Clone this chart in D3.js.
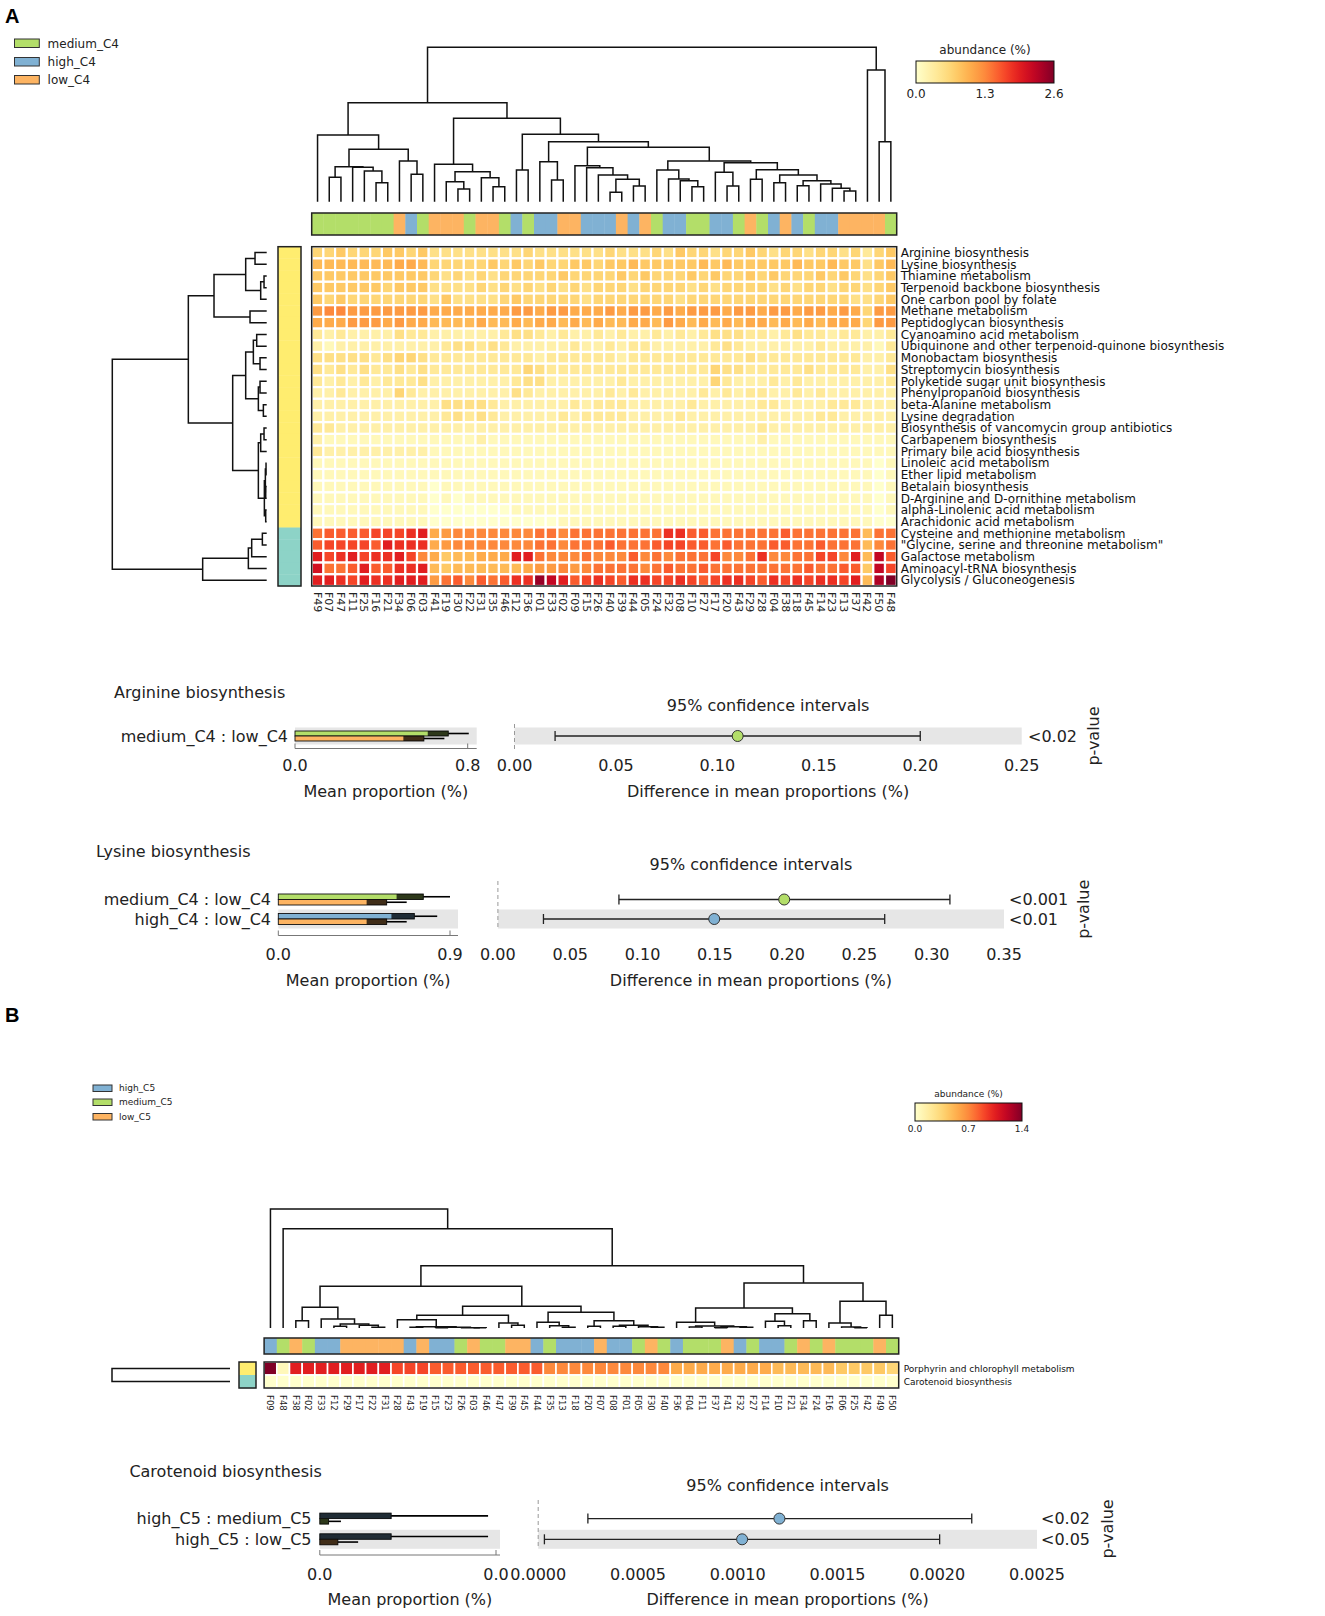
<!DOCTYPE html>
<html>
<head>
<meta charset="utf-8">
<script src="https://cdn.jsdelivr.net/npm/d3@7"></script>
<style>
  body { margin: 0; background: #fff; }
  svg { display: block; font-family: "DejaVu Sans", sans-serif; }
</style>
</head>
<body>
<svg id="fig" width="1325" height="1616"></svg>
<script>
// ---- panel A heatmap data ----
var colsA = ["F49","F07","F47","F11","F25","F16","F21","F34","F06","F03","F41","F19","F30","F22","F31","F35","F46","F12","F36","F01",
  "F33","F02","F09","F15","F26","F40","F39","F44","F05","F24","F32","F08","F10","F27","F17","F20","F43","F29","F28","F04",
  "F38","F18","F45","F14","F23","F13","F37","F42","F50","F48"];
// m = medium_C4, h = high_C4, l = low_C4
var groupsA = "mmmmmmmlhm lllmllmhmhh llhhhlhlm hhmmhhmlmh lhmhhllllm";
var rowsA = ["Arginine biosynthesis","Lysine biosynthesis","Thiamine metabolism","Terpenoid backbone biosynthesis",
  "One carbon pool by folate","Methane metabolism","Peptidoglycan biosynthesis","Cyanoamino acid metabolism",
  "Ubiquinone and other terpenoid-quinone biosynthesis","Monobactam biosynthesis","Streptomycin biosynthesis",
  "Polyketide sugar unit biosynthesis","Phenylpropanoid biosynthesis","beta-Alanine metabolism","Lysine degradation",
  "Biosynthesis of vancomycin group antibiotics","Carbapenem biosynthesis","Primary bile acid biosynthesis",
  "Linoleic acid metabolism","Ether lipid metabolism","Betalain biosynthesis","D-Arginine and D-ornithine metabolism",
  "alpha-Linolenic acid metabolism","Arachidonic acid metabolism","Cysteine and methionine metabolism",
  "\"Glycine, serine and threonine metabolism\"","Galactose metabolism","Aminoacyl-tRNA biosynthesis",
  "Glycolysis / Gluconeogenesis"];
var rowGroupA = "yyyyyyyyyyyyyyyyyyyyyyyyttttt"; // y = upper cluster, t = lower cluster
// abundance levels per cell, one char per sample: "0".."k" = 0..20 twentieths of the colour range
var heatA = [
  "5565556656 4444444454 4444454445 4655455654 5545545356",
  "7777777887 5555565656 5566566766 6667676666 6766766467",
  "6666666666 5454545555 5655556565 5565655656 5556565456",
  "6666665666 4444545454 5454555455 5545455554 5455455456",
  "6565555555 4644445655 5554555555 5455555555 5555554456",
  "9aa9999999 8888888998 9988898998 9899989989 9899898599",
  "8889998988 7777877878 8787877887 9878787887 8787888599",
  "3232222433 2222223443 2322323223 2323444332 3433233223",
  "2122222222 2344343222 2232232332 2222343222 2223222213",
  "4444434554 3333333332 3333332333 3333333433 3333333223",
  "4343433434 3333333354 3333333333 3333544333 3343333224",
  "3232323334 2222222344 2222223222 2222532223 2322222223",
  "2232222532 2222222432 2222232322 2223232332 2323222222",
  "2222222222 2444432222 2232333222 2232222233 2222333222",
  "2222222222 2343432222 2323333222 2322222222 2223322222",
  "3322222222 2222222222 2222222222 2222222232 2222222222",
  "2111111111 1111211111 1111111111 1111111121 1111111111",
  "3222222222 1111111111 1111111111 1111111111 1111111111",
  "1111111111 1111111111 1111111111 1111111111 1111111101",
  "1111111111 1111111111 1111111111 1111111111 1111111101",
  "1111111111 0111111111 1111111111 1111111111 1111111101",
  "1111111111 0101111111 1111111111 1111111111 1111111101",
  "1111111111 0000000111 1111111111 1111111111 1111111101",
  "1111111111 0000000000 0111111111 1111111111 1111111100",
  "bccccdddef 89aaaaaaab babbbbbbbb eeccbbbbbb cbbbbbb7bb",
  "cddddcfeee 89aaaaaaab babbbcbbbc ddccbcbbbc cbbcbbb7ab",
  "fdefdeefda 8677888ffb aaabaaacab abbbdaabea abbddaf7hc",
  "gbbcfcceef 7677777789 9a9abbbbab cbbcbbbbbb bbcbbcc6hd",
  "ffedfeefff 9bcacbceej hfcdedceed dedcdeedce dedeedf7ik"
];
var maxA = 2.6, ticksA = [0, 1.3, 2.6];
// dendrograms: [height, left, right], leaves are column / row indices
var colTreeA = [463,
  [297,
    [200, 0, [157, [105, [73, 1, 2], [103, 3, [92, 4, [57, 5, 6]]]], [122, 7, [82, 8, 9]]]],
    [250,
      [112, 10, [90, [60, 11, [38, 12, 13]], [72, 14, [45, 15, 16]]]],
      [202, [95, 17, 18],
        [180, [120, 19, [65, 20, 21]],
          [163, [108, 22, [102, 23, [80, 24, [67, [28, 25, 26], [47, 27, 28]]]]],
            [122, [95, 29, [68, 30, [63, 31, [45, 32, 33]]]],
              [117, [88, 34, [47, 35, 36]],
                [96, [67, 37, 38], [80, [57, 39, 40], [63, [48, 41, 42], [53, 43, [40, 44, [32, 45, 46]]]]]]]]]]]]],
  [395, 47, [180, 48, 49]]];
var rowTreeA = [463,
  [235,
    [158, [63, [35, 0, 1], [18, [8, 2, 3], 4]], [50, 5, 6]],
    [102,
      [63, [40, [30, 7, 8], [20, 9, 10]], [25, [20, 11, 12], [10, 13, 14]]],
      [25, [18, [8, 15, 16], 17], [7, [4, [2, 18, 19], [3, 20, 21]], [3, 22, 23]]]]],
  [192, [55, [45, [13, 24, 25], 26], 27], 28]];

// ---- panel B heatmap data ----
var colsB = ["F09","F48","F38","F02","F33","F12","F29","F17","F22","F31","F28","F43","F19","F15","F23","F26","F03","F46","F47","F39",
  "F45","F44","F35","F13","F18","F20","F07","F08","F01","F05","F30","F40","F36","F04","F11","F37","F41","F32","F27","F14",
  "F10","F21","F34","F24","F16","F06","F25","F42","F49","F50"];
var groupsB = "hmlmhhllll lhlhhmlmml lhmhhhlhhm lmhmmmlhmh hmlmlmmmlm";
var rowsB = ["Porphyrin and chlorophyll metabolism", "Carotenoid biosynthesis"];
var heatB = [
  "k1ffffffff dddccccccc ccaaaaaaaa aa88888888 7777766665",
  "0000000000 0000000000 0000000000 0000000000 0000000000"
];
var maxB = 1.4, ticksB = [0, 0.7, 1.4];
var colTreeB = [357, 0, [298, 1, [187,
  [125,
    [62, [22, 2, 3], [27, 4, [12, [5, 5, 6], [8, 7, [2, 8, 9]]]]],
    [65,
      [38, [25, 10, [4, [2, 11, 12], [2, [1, 13, 14], [1, 15, [0.5, 16, 17]]]]], [15, 18, [8, 19, 20]]],
      [47, [17, 21, [7, 22, [2, 23, 24]]], [22, [5, 25, 26], [8, [5, 27, 28], [4, 29, [2, 30, 31]]]]]]],
  [135,
    [60, [17, 32, [6, [3, 33, 34], [4, [1, 35, 36], [2, 37, 38]]]], [43, [20, 39, [7, 40, 41]], [22, 42, 43]]],
    [80, [15, 44, [3, 45, [0.5, 46, 47]]], [38, 48, 49]]]]]];
var rowTreeB = [1, 0, 1];

var legendA = [["medium_C4", "m"], ["high_C4", "h"], ["low_C4", "l"]];
var legendB = [["high_C5", "h"], ["medium_C5", "m"], ["low_C5", "l"]];

// ---- extended error bar data ----
var sectionTitles = ["Arginine biosynthesis", "Lysine biosynthesis", "Carotenoid biosynthesis"];
var pairLabels = [["medium_C4 : low_C4"], ["medium_C4 : low_C4", "high_C4 : low_C4"], ["high_C5 : medium_C5", "high_C5 : low_C5"]];
var pairGroups = [[["m", "l"]], [["m", "l"], ["h", "l"]], [["h", "m"], ["h", "l"]]];
var meanProp = [[[0.71, 0.597]], [[0.76, 0.568], [0.713, 0.568]], [[0.00162, 0.0002], [0.00162, 0.00041]]];
var meanSd = [[[0.095, 0.095]], [[0.14, 0.105], [0.12, 0.105]], [[0.0022, 0.00028], [0.0022, 0.00046]]];
var diffMean = [[0.11], [0.198, 0.1496], [0.001209, 0.001022]];
var diffLo = [[0.02], [0.0837, 0.0315], [0.000249, 0.0000311]];
var diffHi = [[0.2], [0.3126, 0.2675], [0.002173, 0.002012]];
var pValues = [["<0.02"], ["<0.001", "<0.01"], ["<0.02", "<0.05"]];
var propTicks = [[0, 0.8], [0, 0.9], [0, 0.004]];
var diffTicks = [[0, 0.05, 0.10, 0.15, 0.20, 0.25], [0, 0.05, 0.10, 0.15, 0.20, 0.25, 0.30, 0.35],
  [0, 0.0005, 0.0010, 0.0015, 0.0020, 0.0025]];
var diffFormat = [".2f", ".2f", ".4f"];

var groupColor = { m: "#b3de69", h: "#80b1d3", l: "#fdb462", y: "#ffed6f", t: "#8dd3c7" };
var levels = "0123456789abcdefghijk";

var svg = d3.select("#fig");

function decode(s, vmax) {
  return s.replace(/ /g, "").split("").map(function(c) { return levels.indexOf(c) / 20 * vmax; });
}

function drawTree(g, tree, pos, hs, orient) {
  function walk(node) {
    if (typeof node === "number") return { c: pos(node), h: 0 };
    var l = walk(node[1]), r = walk(node[2]), h = node[0], d;
    if (orient === "top")
      d = "M" + l.c + "," + hs(l.h) + "V" + hs(h) + "H" + r.c + "V" + hs(r.h);
    else
      d = "M" + hs(l.h) + "," + l.c + "H" + hs(h) + "V" + r.c + "H" + hs(r.h);
    g.append("path").attr("d", d).attr("fill", "none").attr("stroke", "#111").attr("stroke-width", 1.5);
    return { c: (l.c + r.c) / 2, h: h };
  }
  walk(tree);
}

function colorbar(id, x0, x1, y0, y1, vmax, ticks, fs, titleY, tickY) {
  var grad = svg.append("defs").append("linearGradient").attr("id", id);
  d3.range(0, 1.0001, 0.05).forEach(function(t) {
    grad.append("stop").attr("offset", t).attr("stop-color", d3.interpolateYlOrRd(t));
  });
  svg.append("rect").attr("x", x0).attr("y", y0).attr("width", x1 - x0).attr("height", y1 - y0)
    .attr("fill", "url(#" + id + ")").attr("stroke", "#111").attr("stroke-width", 1);
  var s = d3.scaleLinear().domain([0, vmax]).range([x0, x1]);
  svg.append("text").attr("x", (x0 + x1) / 2).attr("y", titleY).attr("text-anchor", "middle")
    .attr("font-size", fs).attr("fill", "#222").text("abundance (%)");
  ticks.forEach(function(t) {
    svg.append("text").attr("x", s(t)).attr("y", tickY).attr("text-anchor", "middle")
      .attr("font-size", fs).attr("fill", "#222").text(d3.format(".1f")(t));
  });
}

function heatmap(opt) {
  var g = svg.append("g");
  var x = d3.scaleBand().domain(d3.range(opt.cols.length)).range(opt.xr);
  var y = d3.scaleBand().domain(d3.range(opt.rows.length)).range(opt.yr);
  var color = d3.scaleSequential(d3.interpolateYlOrRd).domain([0, opt.vmax]);
  var groups = opt.groups.replace(/ /g, "");
  // sample group bar
  d3.range(opt.cols.length).forEach(function(j) {
    g.append("rect").attr("x", x(j)).attr("y", opt.gbar[0]).attr("width", x.bandwidth() + 0.4)
      .attr("height", opt.gbar[1] - opt.gbar[0]).attr("fill", groupColor[groups[j]]);
  });
  g.append("rect").attr("x", opt.xr[0]).attr("y", opt.gbar[0]).attr("width", opt.xr[1] - opt.xr[0])
    .attr("height", opt.gbar[1] - opt.gbar[0]).attr("fill", "none").attr("stroke", "#222").attr("stroke-width", 1.5);
  // cells
  opt.data.forEach(function(s, i) {
    decode(s, opt.vmax).forEach(function(v, j) {
      g.append("rect").attr("x", x(j)).attr("y", y(i)).attr("width", x.bandwidth()).attr("height", y.bandwidth())
        .attr("fill", color(v)).attr("stroke", "#fff").attr("stroke-width", opt.gap);
    });
  });
  g.append("rect").attr("x", opt.xr[0]).attr("y", opt.yr[0]).attr("width", opt.xr[1] - opt.xr[0])
    .attr("height", opt.yr[1] - opt.yr[0]).attr("fill", "none").attr("stroke", "#222").attr("stroke-width", 1.5);
  // row group bar
  opt.rows.forEach(function(r, i) {
    g.append("rect").attr("x", opt.rbar[0]).attr("y", y(i)).attr("width", opt.rbar[1] - opt.rbar[0])
      .attr("height", y.bandwidth() + 0.4).attr("fill", groupColor[opt.rowGroups[i]]);
  });
  g.append("rect").attr("x", opt.rbar[0]).attr("y", opt.yr[0]).attr("width", opt.rbar[1] - opt.rbar[0])
    .attr("height", opt.yr[1] - opt.yr[0]).attr("fill", "none").attr("stroke", "#222").attr("stroke-width", 1.5);
  // labels
  opt.rows.forEach(function(r, i) {
    g.append("text").attr("x", opt.xr[1] + opt.rowLabelGap).attr("y", y(i) + y.bandwidth() / 2).attr("dy", "0.36em")
      .attr("font-size", opt.rowFs).attr("fill", "#111").text(r);
  });
  opt.cols.forEach(function(c, j) {
    g.append("text").attr("transform", "translate(" + (x(j) + x.bandwidth() / 2) + "," + opt.colLabelY + ") rotate(90)")
      .attr("dy", "0.36em").attr("font-size", opt.colFs).attr("fill", "#222").text(c);
  });
  // dendrograms
  drawTree(g, opt.colTree, function(j) { return x(j) + x.bandwidth() / 2; },
    d3.scaleLinear().domain([0, opt.colTree[0]]).range(opt.colTreeY), "top");
  drawTree(g, opt.rowTree, function(i) { return y(i) + y.bandwidth() / 2; },
    d3.scaleLinear().domain([0, opt.rowTree[0]]).range(opt.rowTreeX), "left");
}

function legend(items, x0, ys, w, h, fs, tx) {
  items.forEach(function(it, i) {
    svg.append("rect").attr("x", x0).attr("y", ys[i]).attr("width", w).attr("height", h)
      .attr("fill", groupColor[it[1]]).attr("stroke", "#333").attr("stroke-width", 1);
    svg.append("text").attr("x", tx).attr("y", ys[i] + h / 2).attr("dy", "0.36em")
      .attr("font-size", fs).attr("fill", "#222").text(it[0]);
  });
}

function section(s, L) {
  var g = svg.append("g").attr("font-size", 16).attr("fill", "#222");
  var pt = propTicks[s], dt = diffTicks[s];
  var px = d3.scaleLinear().domain([pt[0], pt[pt.length - 1]]).range(L.prop);
  var dx = d3.scaleLinear().domain([dt[0], dt[dt.length - 1]]).range(L.diff);
  var n = pairLabels[s].length;
  g.append("text").attr("x", L.title[0]).attr("y", L.title[1]).attr("dy", "0.36em").text(sectionTitles[s]);
  g.append("text").attr("x", (L.diff[0] + L.diff[1]) / 2).attr("y", L.ciTitle).attr("dy", "0.36em")
    .attr("text-anchor", "middle").text("95% confidence intervals");
  d3.range(n).forEach(function(i) {
    var yc = L.rows[i];
    if ((n - 1 - i) % 2 === 0) {
      g.append("rect").attr("x", L.prop[0]).attr("y", yc - L.bandH / 2).attr("width", L.bandEnd - L.prop[0])
        .attr("height", L.bandH).attr("fill", "#e6e6e6");
      g.append("rect").attr("x", L.diff[0]).attr("y", yc - L.bandH / 2).attr("width", L.diff[1] - L.diff[0])
        .attr("height", L.bandH).attr("fill", "#e6e6e6");
    }
  });
  // zero line of the difference axis
  g.append("line").attr("x1", dx(0)).attr("x2", dx(0)).attr("y1", L.dash[0]).attr("y2", L.dash[1])
    .attr("stroke", "#999").attr("stroke-width", 1).attr("stroke-dasharray", "4,3");
  d3.range(n).forEach(function(i) {
    var yc = L.rows[i];
    g.append("text").attr("x", L.labelX).attr("y", yc).attr("dy", "0.36em").attr("text-anchor", "end").text(pairLabels[s][i]);
    [0, 1].forEach(function(k) {
      var m = meanProp[s][i][k], sd = meanSd[s][i][k], y0 = yc - L.barH + k * L.barH;
      g.append("rect").attr("x", px(0)).attr("y", y0).attr("width", px(m) - px(0)).attr("height", L.barH)
        .attr("fill", groupColor[pairGroups[s][i][k]]).attr("stroke", "#111").attr("stroke-width", 0.9);
      g.append("rect").attr("x", px(Math.max(0, m - sd))).attr("y", y0).attr("width", px(m) - px(Math.max(0, m - sd)))
        .attr("height", L.barH).attr("fill", "#000").attr("fill-opacity", 0.75);
      g.append("line").attr("x1", px(m)).attr("x2", px(m + sd)).attr("y1", y0 + L.barH / 2).attr("y2", y0 + L.barH / 2)
        .attr("stroke", "#000").attr("stroke-width", 1.6);
    });
    var lo = dx(diffLo[s][i]), hi = dx(diffHi[s][i]);
    g.append("line").attr("x1", lo).attr("x2", hi).attr("y1", yc).attr("y2", yc).attr("stroke", "#222").attr("stroke-width", 1.3);
    [lo, hi].forEach(function(xx) {
      g.append("line").attr("x1", xx).attr("x2", xx).attr("y1", yc - 5).attr("y2", yc + 5).attr("stroke", "#222").attr("stroke-width", 1.3);
    });
    g.append("circle").attr("cx", dx(diffMean[s][i])).attr("cy", yc).attr("r", 5.5)
      .attr("fill", groupColor[pairGroups[s][i][0]]).attr("stroke", "#333").attr("stroke-width", 1);
    g.append("text").attr("x", L.pX).attr("y", yc).attr("dy", "0.36em").text(pValues[s][i]);
  });
  // axes
  g.append("line").attr("x1", L.prop[0]).attr("x2", L.bandEnd).attr("y1", L.axisY).attr("y2", L.axisY)
    .attr("stroke", "#777").attr("stroke-width", 1);
  pt.forEach(function(t) {
    g.append("line").attr("x1", px(t)).attr("x2", px(t)).attr("y1", L.axisY).attr("y2", L.axisY - 5).attr("stroke", "#777");
    g.append("text").attr("x", px(t)).attr("y", L.tickY).attr("dy", "0.36em").attr("text-anchor", "middle")
      .text(d3.format(".1f")(t));
  });
  dt.forEach(function(t) {
    g.append("text").attr("x", dx(t)).attr("y", L.tickY).attr("dy", "0.36em").attr("text-anchor", "middle")
      .text(d3.format(diffFormat[s])(t));
  });
  g.append("text").attr("x", (L.prop[0] + L.bandEnd) / 2).attr("y", L.xlabY).attr("dy", "0.36em")
    .attr("text-anchor", "middle").text("Mean proportion (%)");
  g.append("text").attr("x", (L.diff[0] + L.diff[1]) / 2).attr("y", L.xlabY).attr("dy", "0.36em")
    .attr("text-anchor", "middle").text("Difference in mean proportions (%)");
  var pm = (L.rows[0] + L.rows[n - 1]) / 2;
  g.append("text").attr("transform", "translate(" + L.pvalX + "," + pm + ") rotate(-90)").attr("dy", "0.36em")
    .attr("text-anchor", "middle").text("p-value");
}

// ---- panel A ----
svg.append("text").attr("x", 5).attr("y", 23).attr("font-family", "Liberation Sans, Arial, sans-serif")
  .attr("font-weight", "bold").attr("font-size", 20).text("A");
legend(legendA, 14.5, [39, 57.5, 75.5], 24.8, 8.5, 12, 47.6);
colorbar("cbA", 916, 1054, 61, 83, maxA, ticksA, 12, 54, 98);
heatmap({
  cols: colsA, rows: rowsA, groups: groupsA, rowGroups: rowGroupA, data: heatA, vmax: maxA,
  xr: [311.7, 896.7], yr: [246.7, 586], gbar: [213, 235], rbar: [278, 301], gap: 2.2,
  rowLabelGap: 4, rowFs: 12, colFs: 11, colLabelY: 592,
  colTree: colTreeA, colTreeY: [201.7, 47.3], rowTree: rowTreeA, rowTreeX: [266.7, 112.3]
});
section(0, { title: [114, 692], ciTitle: 705, rows: [736], labelX: 288, barH: 5, bandH: 17,
  prop: [295, 467.7], bandEnd: 476.7, diff: [514.5, 1021.7], dash: [724, 750],
  axisY: 748.5, tickY: 765, xlabY: 791, pX: 1028, pvalX: 1093 });
section(1, { title: [96, 851], ciTitle: 864.5, rows: [899.5, 919], labelX: 271, barH: 5.5, bandH: 19,
  prop: [278.3, 450], bandEnd: 458, diff: [497.9, 1004], dash: [881, 930],
  axisY: 935.5, tickY: 954.5, xlabY: 980, pX: 1009, pvalX: 1083 });

// ---- panel B ----
svg.append("text").attr("x", 5).attr("y", 1022).attr("font-family", "Liberation Sans, Arial, sans-serif")
  .attr("font-weight", "bold").attr("font-size", 20).text("B");
legend(legendB, 93, [1085, 1099, 1113.5], 19, 6.5, 9, 119);
colorbar("cbB", 915, 1022, 1103, 1121, maxB, ticksB, 9, 1097, 1132);
heatmap({
  cols: colsB, rows: rowsB, groups: groupsB, rowGroups: "yt", data: heatB, vmax: maxB,
  xr: [264.1, 898.7], yr: [1362, 1388], gbar: [1338, 1354], rbar: [239, 256], gap: 1.6,
  rowLabelGap: 5, rowFs: 9, colFs: 8.5, colLabelY: 1395,
  colTree: colTreeB, colTreeY: [1328, 1209], rowTree: rowTreeB, rowTreeX: [230, 112]
});
section(2, { title: [129.4, 1471], ciTitle: 1485.6, rows: [1518.6, 1539.3], labelX: 311.5, barH: 5.5, bandH: 19,
  prop: [319.8, 496], bandEnd: 500, diff: [538.2, 1037], dash: [1500, 1549],
  axisY: 1555, tickY: 1574, xlabY: 1599, pX: 1041, pvalX: 1107 });
</script>
</body>
</html>
